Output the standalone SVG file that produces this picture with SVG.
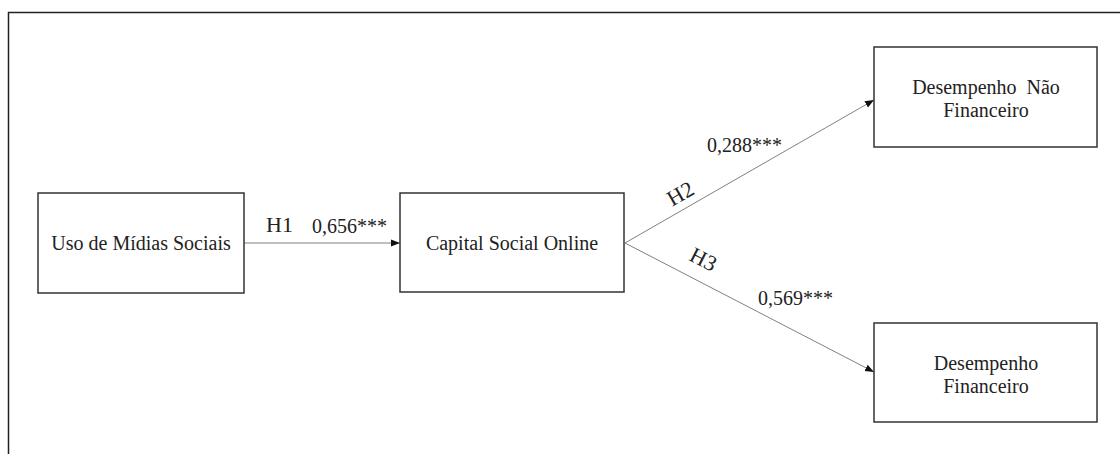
<svg xmlns="http://www.w3.org/2000/svg" width="1120" height="454" viewBox="0 0 1120 454">
  <style>
    .box { fill: #ffffff; stroke: #333333; stroke-width: 1.5; }
    .frame { fill: none; stroke: #222222; stroke-width: 1.5; }
    .edge { fill: none; stroke: #808080; stroke-width: 1; marker-end: url(#arrow); }
    .lbl { font-family: "Liberation Serif", "Times New Roman", serif; fill: #222222; }
    .node { font-size: 20px; text-anchor: middle; }
    .coef { font-size: 20px; }
    .hyp { font-size: 22px; }
  </style>
  <defs>
    <marker id="arrow" viewBox="0 0 10 10" refX="10" refY="5" markerWidth="9" markerHeight="9" markerUnits="userSpaceOnUse" orient="auto">
      <path d="M0,1 L10,5 L0,9 Z" fill="#111111"/>
    </marker>
  </defs>

  <rect width="1120" height="454" fill="#ffffff"/>

  <!-- outer frame: top and left edges -->
  <path class="frame" d="M8.5,454 L8.5,12.5 L1120,12.5"/>

  <!-- connectors -->
  <g id="connectors">
    <line class="edge" x1="244" y1="243" x2="400" y2="243"/>
    <line class="edge" x1="625" y1="243" x2="874" y2="100"/>
    <line class="edge" x1="625" y1="243" x2="874" y2="372"/>
    <text class="lbl hyp" x="266" y="232">H1</text>
    <text class="lbl coef" x="312" y="233">0,656***</text>
    <text class="lbl hyp" transform="translate(684,200) rotate(-29.8)" text-anchor="middle">H2</text>
    <text class="lbl coef" x="707" y="152">0,288***</text>
    <text class="lbl hyp" transform="translate(700,266) rotate(27.3)" text-anchor="middle">H3</text>
    <text class="lbl coef" x="758" y="305">0,569***</text>
  </g>

  <g id="uso-midias">
    <rect class="box" x="38" y="193" width="206" height="100"/>
    <text class="lbl node" x="141" y="250">Uso de Mídias Sociais</text>
  </g>

  <g id="capital-social">
    <rect class="box" x="400" y="193" width="224" height="99"/>
    <text class="lbl node" x="512" y="250">Capital Social Online</text>
  </g>

  <g id="desempenho-nao-financeiro">
    <rect class="box" x="874" y="47" width="223" height="100"/>
    <text class="lbl node" x="986" y="94" xml:space="preserve">Desempenho  Não</text>
    <text class="lbl node" x="986" y="117">Financeiro</text>
  </g>

  <g id="desempenho-financeiro">
    <rect class="box" x="874" y="323" width="223" height="99"/>
    <text class="lbl node" x="986" y="370">Desempenho</text>
    <text class="lbl node" x="986" y="393">Financeiro</text>
  </g>
</svg>
